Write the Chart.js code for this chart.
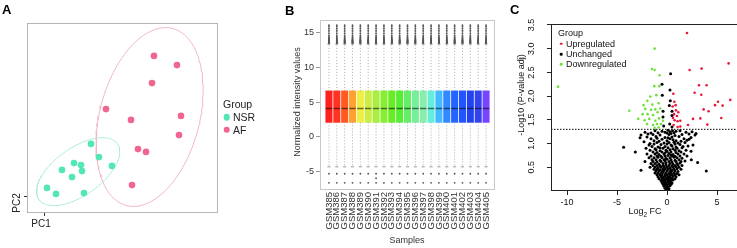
<!DOCTYPE html>
<html>
<head>
<meta charset="utf-8">
<script src="https://cdn.jsdelivr.net/npm/chart.js@4.4.1/dist/chart.umd.min.js"></script>
<style>
  html, body { margin:0; padding:0; background:#fff; }
  body { width:737px; height:248px; overflow:hidden; position:relative; font-family:"Liberation Sans", Arial, Helvetica, sans-serif; }
  canvas { position:absolute; top:0; }
  .t { position:absolute; white-space:nowrap; line-height:1; transform:translate(-50%,-50%); }
  .r { transform:translate(-50%,-50%) rotate(-90deg); }
  .l { transform:translate(0,-50%); }
  .dot { position:absolute; border-radius:50%; transform:translate(-50%,-50%); }
</style>
</head>
<body>
<canvas id="chartA" width="260" height="248" style="left:0px"></canvas>
<canvas id="chartB" width="240" height="248" style="left:260px"></canvas>
<canvas id="chartC" width="260" height="248" style="left:490px"></canvas>

<!-- panel letters -->
<div class="t l" style="left:2px;top:9px;font-weight:bold;font-size:13px;">A</div>
<div class="t l" style="left:285px;top:10px;font-weight:bold;font-size:13px;">B</div>
<div class="t l" style="left:510px;top:9px;font-weight:bold;font-size:13px;">C</div>

<!-- panel A texts -->
<div class="t r" style="left:17px;top:203px;font-size:10px;color:#222;">PC2</div>
<div class="t" style="left:41px;top:224px;font-size:10px;color:#222;">PC1</div>
<div class="t l" style="left:223px;top:104px;font-size:10.5px;color:#222;">Group</div>
<div class="dot" style="left:226.7px;top:117.3px;width:6.6px;height:6.6px;background:#52E6B8;"></div>
<div class="t l" style="left:233px;top:117.3px;font-size:10.5px;color:#222;">NSR</div>
<div class="dot" style="left:226.7px;top:129.5px;width:6.6px;height:6.6px;background:#F0668E;"></div>
<div class="t l" style="left:233px;top:129.5px;font-size:10.5px;color:#222;">AF</div>

<!-- panel B texts -->
<div class="t r" style="left:297px;top:102px;font-size:9px;color:#333;">Normalized intensity values</div>
<div class="t" style="left:407px;top:240px;font-size:9px;color:#333;">Samples</div>

<!-- panel C texts -->
<div class="t r" style="left:521px;top:95px;font-size:9px;color:#111;">-Log10 (P-value adj)</div>
<div class="t" style="left:645px;top:213px;font-size:9px;color:#111;">Log<sub style="font-size:6.5px;">2</sub> FC</div>
<div class="t l" style="left:558px;top:33px;font-size:9px;color:#111;">Group</div>
<div class="dot" style="left:561px;top:43.7px;width:2.6px;height:2.6px;background:#E8173C;"></div>
<div class="t l" style="left:566px;top:43.7px;font-size:9px;color:#111;">Upregulated</div>
<div class="dot" style="left:561px;top:54px;width:2.6px;height:2.6px;background:#000;"></div>
<div class="t l" style="left:566px;top:54px;font-size:9px;color:#111;">Unchanged</div>
<div class="dot" style="left:561px;top:64.3px;width:2.6px;height:2.6px;background:#6FE03A;"></div>
<div class="t l" style="left:566px;top:64.3px;font-size:9px;color:#111;">Downregulated</div>

<script>
// ================= DATA =================
// Panel A: PCA scores
const nsrPC1 = [11.75, 13.75, 17.0, 7.5, 9.25, 9.5, 4.5, 7.0, 0.75, 3.0, 10.0];
const nsrPC2 = [13.2, 9.9, 7.7, 8.4, 7.9, 6.4, 6.7, 4.9, 2.2, 0.7, 0.9];
const afPC1 = [27.5, 33.25, 27.0, 15.5, 21.75, 34.25, 33.75, 23.5, 25.5, 22.0];
const afPC2 = [35.2, 32.9, 28.4, 21.9, 19.2, 20.2, 15.4, 11.9, 11.2, 2.9];
const ellipseLevel = 2.2;

// Panel B: normalized intensity box plots
const samples = ['GSM385','GSM386','GSM387','GSM388','GSM389','GSM390','GSM391','GSM392','GSM393','GSM394','GSM395',
                 'GSM396','GSM397','GSM398','GSM399','GSM400','GSM401','GSM402','GSM403','GSM404','GSM405'];
const boxQ1 =     [2.1,2.1,2.1,2.1,2.1,2.1,2.1,2.1,2.1,2.1,2.1,2.1,2.1,2.1,2.1,2.1,2.1,2.1,2.1,2.1,2.1];
const boxMedian = [4.1,4.1,4.1,4.1,4.1,4.1,4.1,4.1,4.1,4.1,4.1,4.1,4.1,4.1,4.1,4.1,4.1,4.1,4.1,4.1,4.1];
const boxQ3 =     [6.65,6.65,6.65,6.65,6.65,6.65,6.65,6.65,6.65,6.65,6.65,6.65,6.65,6.65,6.65,6.65,6.65,6.65,6.65,6.65,6.65];
const whiskerHigh = [13.4,13.4,13.4,13.4,13.4,13.4,13.4,13.4,13.4,13.4,13.4,13.4,13.4,13.4,13.4,13.4,13.4,13.4,13.4,13.4,13.4];
const whiskerLow =  [-4.3,-4.3,-4.3,-4.3,-4.3,-4.3,-4.3,-4.3,-4.3,-4.3,-4.3,-4.3,-4.3,-4.3,-4.3,-4.3,-4.3,-4.3,-4.3,-4.3,-4.3];
const outliersHigh = [13.5,13.55,13.6,13.65,13.7,13.75,13.8,13.85,13.9,13.95,14.0,14.1,14.2,14.3,14.45,14.65,14.9,15.15,15.4,15.65,15.9,16.1];
const outliersLow = [-5.3, -6.6];
const extraOutlierSample = ['GSM391'];
const extraOutlierValue = [-5.95];
const boxColors = ['#FF2020','#FF3322','#FF5A22','#FFA033','#EEEE44','#CCEE44','#AAEE44','#88EE33','#66EE22','#55EE33','#66EE66',
                   '#77EE99','#88EEAA','#66EEDD','#44BBFF','#3388FF','#2266FF','#2255FF','#2244EE','#3344EE','#7744FF'];
const intensityTicks = [-5, 0, 5, 10, 15];

// Panel C: volcano plot  [log2FC, -log10(P adj)]
const upregulated = [[2.0,3.33],[6.16,2.69],[2.26,2.55],[3.46,2.58],[3.2,2.23],[3.96,2.23],[2.76,2.07],[3.43,2.03],[0.63,2.05],
  [6.33,1.92],[5.1,1.88],[5.56,1.80],[4.8,1.81],[0.73,1.88],[0.86,1.81],[0.56,1.78],[1.13,1.66],[3.66,1.72],[4.16,1.68],
  [1.0,1.58],[0.6,1.54],[0.76,1.49],[1.06,1.47],[1.33,1.48],[2.6,1.52],[3.33,1.53],[5.43,1.54],[4.03,1.40],[2.1,1.39],
  [1.33,1.36],[1.06,1.35],[0.66,1.39],[0.9,1.70],[0.7,1.62]];
const downregulated = [[-10.9,2.2],[-1.24,3.0],[-1.5,2.57],[-1.24,2.55],[-0.74,2.44],[-1.27,2.21],[-0.77,2.21],[-3.77,1.69],
  [-1.67,1.99],[-1.07,2.02],[-1.97,1.90],[-2.34,1.81],[-1.47,1.82],[-0.84,1.85],[-2.17,1.73],[-1.6,1.71],[-1.17,1.72],
  [-0.67,1.74],[-2.44,1.62],[-1.94,1.62],[-1.4,1.60],[-0.94,1.66],[-2.87,1.52],[-2.24,1.49],[-1.77,1.52],[-1.17,1.48],
  [-0.8,1.53],[-0.4,1.48],[-2.0,1.41],[-1.4,1.39],[-1.0,1.41],[-0.6,1.41],[-1.24,1.33],[-0.84,1.34]];
const unchanged = [
  [0.36,2.47],[-0.5,2.25],[0.3,2.13],[-0.47,2.02],[0.33,1.9],[0.23,1.8],[-0.4,1.68],[0.5,1.68],[0.5,1.59],[-0.4,1.56],
  [0.27,1.41],[-0.33,1.37],[0.5,1.35],
  [-1.2,1.27],[-0.5,1.26],[0.1,1.28],[0.3,1.25],[0.55,1.27],[0.9,1.26],[1.3,1.27],[2.5,1.25],
  [-2.2,1.24],[-1.6,1.22],[-0.9,1.23],[0.0,1.22],[0.7,1.23],[1.9,1.24],[2.9,1.21],[-0.2,1.24],[0.4,1.21],
  [-2.6,1.18],[-1.4,1.19],[-0.7,1.18],[0.2,1.19],[0.8,1.17],[1.5,1.19],[2.8,1.18],[-1.9,1.2],[2.2,1.2],
  [-2.0,1.14],[-1.1,1.15],[-0.2,1.13],[0.5,1.14],[1.2,1.15],[2.4,1.13],[-2.7,1.12],[0.1,1.12],
  [-1.6,1.1],[-0.5,1.09],[0.3,1.1],[0.6,1.08],[1.7,1.1],[2.2,1.09],[-1.0,1.11],
  [-1.3,1.06],[-0.8,1.05],[0.0,1.06],[0.9,1.06],[1.4,1.05],[2.0,1.07],[-2.3,1.04],
  [-1.0,1.02],[-0.3,1.01],[0.2,1.02],[0.7,1.03],[1.1,1.01],[1.8,1.02],[-1.7,1.0],
  [-1.8,0.97],[-0.6,0.98],[0.0,0.99],[0.4,0.97],[1.3,0.98],[2.6,0.97],[-1.3,0.99],[0.8,0.99],
  [-1.5,0.94],[-0.9,0.93],[-0.2,0.94],[0.5,0.95],[0.9,0.93],[1.6,0.94],[2.1,0.95],
  [-4.34,0.92],[-2.1,0.9],[-1.2,0.89],[-0.4,0.9],[0.1,0.91],[0.6,0.89],[1.0,0.9],[1.5,0.91],[-0.7,0.91],
  [-1.7,0.86],[-0.7,0.85],[-0.1,0.86],[0.3,0.87],[0.8,0.86],[1.2,0.85],[1.9,0.86],[2.4,0.84],[-1.1,0.87],
  [-3.17,0.82],[-1.4,0.82],[-1.0,0.81],[-0.5,0.82],[0.0,0.83],[0.4,0.82],[0.9,0.81],[1.4,0.82],[-0.2,0.8],
  [-2.0,0.78],[-1.2,0.78],[-0.8,0.77],[-0.3,0.78],[0.2,0.79],[0.6,0.77],[1.1,0.78],[1.7,0.78],[0.4,0.76],
  [-1.6,0.74],[-1.0,0.74],[-0.6,0.73],[-0.2,0.74],[0.1,0.75],[0.5,0.74],[0.8,0.73],[1.3,0.74],[2.0,0.74],
  [-1.8,0.7],[-1.3,0.7],[-0.9,0.71],[-0.5,0.7],[-0.1,0.69],[0.3,0.7],[0.7,0.71],[1.0,0.7],[1.5,0.69],
  [-1.5,0.66],[-1.1,0.66],[-0.7,0.65],[-0.3,0.66],[0.0,0.67],[0.4,0.66],[0.8,0.65],[1.2,0.66],[2.43,0.66],
  [-2.2,0.62],[-1.4,0.62],[-1.0,0.61],[-0.6,0.62],[-0.2,0.63],[0.2,0.62],[0.5,0.61],[0.9,0.62],[1.4,0.62],[1.8,0.63],
  [-1.6,0.58],[-1.2,0.58],[-0.8,0.57],[-0.4,0.58],[-0.1,0.59],[0.3,0.58],[0.6,0.57],[1.0,0.58],[1.3,0.59],[3.06,0.6],
  [-1.4,0.54],[-1.0,0.54],[-0.7,0.53],[-0.4,0.54],[-0.1,0.55],[0.2,0.54],[0.5,0.53],[0.8,0.54],[1.1,0.55],[1.5,0.54],
  [-1.7,0.5],[-1.2,0.5],[-0.9,0.49],[-0.6,0.5],[-0.3,0.51],[0.0,0.5],[0.3,0.49],[0.6,0.5],[0.9,0.51],[1.2,0.5],
  [-1.3,0.46],[-1.0,0.46],[-0.7,0.45],[-0.4,0.46],[-0.2,0.47],[0.1,0.46],[0.4,0.45],[0.7,0.46],[1.0,0.47],[1.4,0.46],
  [-2.6,0.44],[-1.1,0.42],[-0.8,0.42],[-0.5,0.41],[-0.3,0.43],[0.0,0.42],[0.3,0.41],[0.5,0.43],[0.8,0.42],[1.1,0.41],[3.93,0.42],
  [-1.2,0.38],[-0.9,0.38],[-0.6,0.37],[-0.4,0.39],[-0.1,0.38],[0.2,0.37],[0.4,0.39],[0.7,0.38],[1.0,0.37],
  [-1.0,0.34],[-0.7,0.34],[-0.5,0.33],[-0.2,0.35],[0.0,0.34],[0.3,0.33],[0.5,0.35],[0.8,0.34],[1.2,0.34],
  [-0.9,0.3],[-0.6,0.3],[-0.4,0.29],[-0.2,0.31],[0.1,0.3],[0.3,0.29],[0.6,0.31],[0.9,0.3],
  [-0.8,0.26],[-0.5,0.26],[-0.3,0.25],[-0.1,0.27],[0.1,0.26],[0.3,0.25],[0.5,0.27],[0.8,0.26],
  [-0.6,0.22],[-0.4,0.22],[-0.2,0.21],[0.0,0.23],[0.2,0.22],[0.4,0.21],[0.6,0.23],
  [-0.5,0.18],[-0.3,0.18],[-0.1,0.17],[0.1,0.19],[0.3,0.18],[0.5,0.17],
  [-0.4,0.14],[-0.2,0.14],[0.0,0.13],[0.2,0.15],[0.4,0.14],
  [-0.3,0.1],[-0.1,0.1],[0.1,0.09],[0.3,0.11],
  [-0.2,0.06],[0.0,0.06],[0.2,0.05],
  [-0.1,0.02],[0.1,0.02],[0.0,0.01]];
const pThreshold = 1.3;
const fcTicks = [-10, -5, 0, 5];
const pTicks = [0.5, 1.0, 1.5, 2.0, 2.5, 3.0, 3.5];

// ================= HELPERS =================
function ellipse(xs, ys, k) {
  const n = xs.length;
  const mx = xs.reduce((a, b) => a + b, 0) / n, my = ys.reduce((a, b) => a + b, 0) / n;
  let sxx = 0, syy = 0, sxy = 0;
  for (let i = 0; i < n; i++) { const dx = xs[i] - mx, dy = ys[i] - my; sxx += dx * dx; syy += dy * dy; sxy += dx * dy; }
  sxx /= (n - 1); syy /= (n - 1); sxy /= (n - 1);
  const a = Math.sqrt(sxx), b = sxy / a, c = Math.sqrt(Math.max(syy - b * b, 0));
  const pts = [];
  for (let j = 0; j <= 160; j++) {
    const t = 2 * Math.PI * j / 160, u = Math.cos(t), v = Math.sin(t);
    pts.push({ x: mx + k * a * u, y: my + k * (b * u + c * v) });
  }
  return pts;
}
const framePlugin = {
  id: 'frame',
  afterDatasetsDraw(chart, args, opts) {
    const { ctx, chartArea: a } = chart;
    ctx.save();
    ctx.strokeStyle = opts.color; ctx.lineWidth = 1;
    ctx.strokeRect(Math.round(a.left) + 0.5, Math.round(a.top) + 0.5,
                   Math.round(a.right) - Math.round(a.left) - 1, Math.round(a.bottom) - Math.round(a.top) - 1);
    ctx.restore();
  }
};
// rotated (bottom-to-top) tick labels, drawn at the scale's own tick pixels
const rotLabels = {
  id: 'rotLabels',
  afterDraw(chart, args, opts) {
    const ctx = chart.ctx;
    (opts.items || []).forEach(it => {
      const s = chart.scales[it.axis];
      ctx.save();
      ctx.font = it.font; ctx.fillStyle = it.color;
      ctx.textAlign = it.align; ctx.textBaseline = 'middle';
      s.ticks.forEach(t => {
        const p = s.getPixelForValue(t.value);
        ctx.save();
        if (it.axis === 'y') ctx.translate(s.right - it.offset, p);
        else ctx.translate(p, s.top + it.offset);
        ctx.rotate(-Math.PI / 2);
        ctx.fillText(it.format(t.value), 0, 0);
        ctx.restore();
      });
      ctx.restore();
    });
  }
};
const base = { responsive: false, animation: false, devicePixelRatio: 1, events: [] };
const fixW = w => s => { s.width = w; };
const fixH = h => s => { s.height = h; };
const setTicks = vals => s => { s.ticks = vals.map(v => ({ value: v })); };
const FONT = '"Liberation Sans", Arial, sans-serif';

// ================= PANEL A =================
new Chart(document.getElementById('chartA'), {
  type: 'scatter',
  data: {
    datasets: [
      { label: 'NSR', data: nsrPC1.map((x, i) => ({ x, y: nsrPC2[i] })), backgroundColor: '#52E6B8', borderWidth: 0, pointRadius: 3.3 },
      { label: 'AF', data: afPC1.map((x, i) => ({ x, y: afPC2[i] })), backgroundColor: '#F0668E', borderWidth: 0, pointRadius: 3.3 },
      { type: 'line', data: ellipse(nsrPC1, nsrPC2, ellipseLevel), borderColor: '#A8EDD6', borderWidth: 1, pointRadius: 0, fill: false, tension: 0 },
      { type: 'line', data: ellipse(afPC1, afPC2, ellipseLevel), borderColor: '#F0B8C2', borderWidth: 1, pointRadius: 0, fill: false, tension: 0 }
    ]
  },
  options: Object.assign({}, base, {
    layout: { autoPadding: false, padding: { left: 23, right: 42, top: 23, bottom: 31 } },
    plugins: { legend: { display: false }, tooltip: { enabled: false }, frame: { color: '#B5B5B5' } },
    scales: {
      x: { type: 'linear', min: -4.25, max: 43.5, afterBuildTicks: setTicks([0]), afterFit: fixH(4),
           ticks: { display: false }, border: { display: false },
           grid: { drawOnChartArea: false, drawTicks: true, tickLength: 3, color: '#333' } },
      y: { type: 'linear', min: -4.07, max: 43.43, afterBuildTicks: setTicks([0]), afterFit: fixW(4),
           ticks: { display: false }, border: { display: false },
           grid: { drawOnChartArea: false, drawTicks: true, tickLength: 3, color: '#333' } }
    }
  }),
  plugins: [framePlugin]
});

// ================= PANEL B =================
const whiskerData = [], capData = [], medianData = [], outlierData = [];
samples.forEach((s, i) => {
  whiskerData.push({ x: i, y: boxQ3[i] }, { x: i, y: whiskerHigh[i] }, { x: i, y: null },
                   { x: i, y: boxQ1[i] }, { x: i, y: whiskerLow[i] }, { x: i, y: null });
  capData.push({ x: i - 0.2, y: whiskerHigh[i] }, { x: i + 0.2, y: whiskerHigh[i] }, { x: i, y: null },
               { x: i - 0.2, y: whiskerLow[i] }, { x: i + 0.2, y: whiskerLow[i] }, { x: i, y: null });
  medianData.push({ x: i - 0.41, y: boxMedian[i] }, { x: i + 0.41, y: boxMedian[i] }, { x: i, y: null });
  outliersHigh.forEach(v => outlierData.push({ x: i, y: v }));
  outliersLow.forEach(v => outlierData.push({ x: i, y: v }));
  extraOutlierSample.forEach((name, k) => { if (name === s) outlierData.push({ x: i, y: extraOutlierValue[k] }); });
});
new Chart(document.getElementById('chartB'), {
  type: 'bar',
  data: {
    datasets: [
      { type: 'line', data: medianData, borderColor: 'rgba(0,0,0,0.55)', borderWidth: 1.6, pointRadius: 0, spanGaps: false },
      { type: 'scatter', data: outlierData, backgroundColor: '#555', borderWidth: 0, pointRadius: 0.9 },
      { type: 'line', data: capData, borderColor: '#999', borderWidth: 1, pointRadius: 0, spanGaps: false },
      { type: 'line', data: whiskerData, borderColor: '#AAA', borderWidth: 1, borderDash: [1, 2], pointRadius: 0, spanGaps: false },
      { type: 'bar', data: samples.map((s, i) => ({ x: i, y: [boxQ1[i], boxQ3[i]] })), backgroundColor: boxColors,
        borderWidth: 0, barThickness: 6.4 }
    ]
  },
  options: Object.assign({}, base, {
    layout: { autoPadding: false, padding: { left: 40, right: 5, top: 20, bottom: 13 } },
    plugins: { legend: { display: false }, tooltip: { enabled: false }, frame: { color: '#C8C8C8' },
               rotLabels: { items: [{ axis: 'x', offset: 2, align: 'right', font: '9.5px ' + FONT, color: '#333',
                                      format: v => samples[v] }] } },
    scales: {
      x: { type: 'linear', offset: false, min: -1.14, max: 21.14, afterBuildTicks: setTicks(samples.map((s, i) => i)),
           afterFit: fixH(45), border: { display: false },
           grid: { display: false, drawTicks: false },
           ticks: { display: false } },
      y: { type: 'linear', min: -7.64, max: 16.86, afterBuildTicks: setTicks(intensityTicks), afterFit: fixW(20),
           border: { display: false },
           grid: { drawOnChartArea: false, drawTicks: true, tickLength: 4, color: '#999' },
           ticks: { padding: 2, color: '#333', font: { size: 9, family: FONT } } }
    }
  }),
  plugins: [framePlugin, rotLabels]
});

// ================= PANEL C =================
const fcMin = -11.6, fcMax = 7.1;
new Chart(document.getElementById('chartC'), {
  type: 'scatter',
  data: {
    datasets: [
      { label: 'Upregulated', data: upregulated.map(p => ({ x: p[0], y: p[1] })), backgroundColor: '#E8173C', borderWidth: 0, pointRadius: 1.3 },
      { label: 'Downregulated', data: downregulated.map(p => ({ x: p[0], y: p[1] })), backgroundColor: '#6FE03A', borderWidth: 0, pointRadius: 1.3 },
      { label: 'Unchanged', data: unchanged.map(p => ({ x: p[0], y: p[1] })), backgroundColor: '#000', borderWidth: 0, pointRadius: 1.5 },
      { type: 'line', data: [{ x: fcMin, y: pThreshold }, { x: fcMax, y: pThreshold }], borderColor: '#000', borderWidth: 1,
        borderDash: [1.5, 1.5], pointRadius: 0 }
    ]
  },
  options: Object.assign({}, base, {
    layout: { autoPadding: false, padding: { left: 51, right: 12, top: 24, bottom: 37 } },
    plugins: { legend: { display: false }, tooltip: { enabled: false }, frame: { color: '#222' },
               rotLabels: { items: [{ axis: 'y', offset: 19, align: 'center', font: '9px ' + FONT, color: '#111',
                                      format: v => v.toFixed(1) }] } },
    scales: {
      x: { type: 'linear', min: fcMin, max: fcMax, afterBuildTicks: setTicks(fcTicks), afterFit: fixH(20),
           border: { display: false },
           grid: { drawOnChartArea: false, drawTicks: true, tickLength: 4, color: '#222' },
           ticks: { padding: 2, color: '#111', font: { size: 9, family: FONT } } },
      y: { type: 'linear', min: 0, max: 3.52, afterBuildTicks: setTicks(pTicks), afterFit: fixW(10),
           border: { display: false },
           grid: { drawOnChartArea: false, drawTicks: true, tickLength: 4, color: '#222' },
           ticks: { display: false } }
    }
  }),
  plugins: [framePlugin, rotLabels]
});
</script>
</body>
</html>
